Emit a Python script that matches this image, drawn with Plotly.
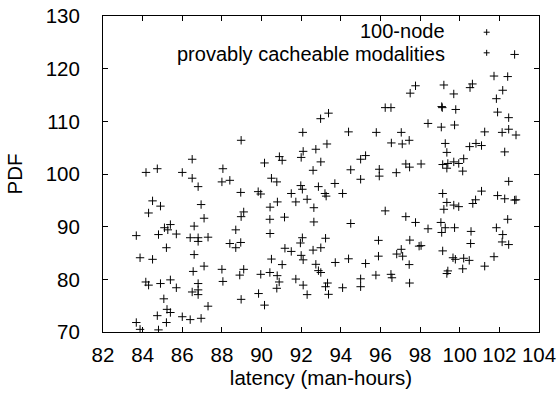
import plotly.graph_objects as go

# Series "100-node"
latency_100node = [86.8, 86.8, 87.3, 88.7, 88.4, 88.7, 88.95, 85.2, 83.87, 84.5, 86.6, 86.55, 87.1, 88.0, 89.1, 88.9,
                   84.16, 84.3, 84.9, 85.4, 85.7, 86.8, 86.8, 86.5, 86.8, 88.05, 85.07, 88.97, 87.3, 85.23, 85.4,
                   84.74, 86.0, 86.4, 86.95, 85.2, 83.68, 83.87, 84.8,
                   92.64, 94.5, 96.24, 97.28, 97.77, 90.43, 92.06, 91.96, 93.23, 91.18, 91.5, 92.6, 92.99, 95.9,
                   97.48, 97.05, 96.82, 97.12, 95.9, 97.95, 90.5, 92.0, 92.1, 94.39, 91.04, 92.74, 93.72, 95.25,
                   97.45, 89.96, 90.42, 90.79, 90.89, 90.77, 91.73, 92.87, 92.99, 93.33, 93.23, 92.1, 92.3, 93.38,
                   94.09, 95.0, 95.0, 95.77, 96.53, 96.58, 97.47, 89.85, 90.15,
                   102.47, 99.14, 99.35, 99.2, 99.7, 99.95, 101.1, 100.66, 100.8, 101.91, 102.27, 102.77, 102.84,
                   102.42, 98.4, 99.05, 99.09, 99.27, 99.74, 100.57, 101.85, 102.17, 102.14, 102.47, 100.55, 98.05,
                   99.14, 99.66, 99.78, 100.2, 100.48, 101.73, 101.26, 100.15, 99.4, 99.35]
pdf_100node = [87.9, 87.2, 88.0, 89.4, 86.8, 86.0, 87.0, 86.0, 84.1, 83.8, 84.7, 81.5, 82.5, 81.9, 81.9, 80.8,
               79.5, 78.9, 79.2, 79.9, 78.4, 79.2, 78.0, 77.6, 77.1, 79.6, 76.3, 76.2, 74.9, 74.3, 73.7,
               73.1, 72.9, 72.35, 72.6, 71.8, 71.8, 70.5, 70.4,
               90.9, 90.6, 93.0, 91.9, 90.8, 88.7, 87.9, 86.9, 87.8, 85.9, 85.3, 85.55, 86.0, 87.4,
               87.45, 85.7, 84.8, 84.4, 84.4, 86.3, 83.85, 84.55, 83.7, 83.9, 82.8, 82.85, 83.2, 83.0,
               82.8, 80.95, 81.3, 80.7, 79.5, 78.3, 80.05, 81.65, 81.3, 79.3, 78.6, 78.9, 77.1, 77.15,
               78.4, 80.1, 78.6, 80.8, 80.95, 80.3, 79.3, 77.3, 75.1,
               98.6, 96.3, 94.6, 93.3, 94.1, 93.8, 96.75, 94.4, 95.1, 95.9, 95.3, 95.05, 95.1,
               91.4, 89.6, 90.8, 88.9, 89.8, 89.8, 89.1, 89.8, 88.5, 87.1, 86.6, 86.8, 86.4,
               85.4, 84.1, 83.8, 84.0, 83.6, 84.3, 82.5, 82.0, 81.6, 81.1]

# Series "provably cacheable modalities"
latency_cacheable = [84.17, 84.74, 86.0, 86.5, 86.5, 88.05, 88.97, 86.8, 88.0, 88.4, 88.95, 84.5, 84.9, 84.3, 86.95,
                     87.1, 88.97, 89.1, 83.68, 84.8, 85.1, 85.27, 85.4, 85.7, 86.6, 86.4,
                     97.77, 97.5, 96.24, 96.53, 93.38, 92.98, 92.08, 94.39, 95.79, 97.05, 96.55, 97.1, 97.45, 93.3,
                     92.74, 92.1, 92.0, 90.9, 91.04, 90.15, 92.99, 92.6, 94.5, 95.0, 95.25, 95.94, 95.94, 96.8,
                     97.28, 97.47, 90.5, 95.0, 90.77, 91.98, 92.06, 92.87, 93.7, 93.2, 93.26, 94.09, 89.83, 89.96,
                     91.5, 91.73, 92.3, 92.64, 90.8, 90.43, 90.42, 91.16,
                     102.77, 101.73, 102.42, 100.64, 100.52, 99.2, 99.7, 102.17, 101.85, 99.09, 99.12, 99.8, 101.91,
                     102.47, 98.4, 99.07, 99.74, 101.26, 102.14, 102.47, 102.84, 99.27, 99.35, 100.5, 100.82, 101.1,
                     102.27, 98.05, 99.14, 99.35, 99.4, 99.7, 99.95, 100.2, 100.15]
pdf_cacheable = [100.3, 101.0, 100.3, 102.8, 99.2, 101.0, 106.4, 97.6, 98.5, 98.8, 96.5, 94.9, 93.9, 92.6, 94.2,
                 91.6, 91.9, 92.8, 88.3, 88.5, 89.8, 89.4, 90.4, 88.6, 90.1, 87.9,
                 116.75, 115.35, 112.6, 112.6, 111.55, 110.5, 107.9, 108.0, 107.9, 107.9, 105.9, 105.7, 106.4, 105.7,
                 104.7, 104.3, 103.15, 103.3, 102.6, 102.1, 102.3, 100.7, 100.8, 102.8, 103.5, 100.9, 99.6, 100.25,
                 101.9, 101.3, 99.2, 99.0, 98.5, 97.8, 97.1, 97.6, 98.2, 96.3, 95.8, 96.3, 96.65, 96.2,
                 96.3, 94.7, 95.2, 93.6, 94.7, 93.7, 91.4, 91.8,
                 122.7, 118.6, 118.5, 117.1, 116.4, 116.9, 115.2, 115.9, 114.3, 112.8, 112.6, 112.25, 111.75,
                 110.7, 109.6, 108.9, 109.3, 108.0, 107.9, 108.5, 107.4, 105.8, 104.1, 105.2, 105.8, 105.4,
                 104.2, 101.9, 101.8, 101.1, 102.0, 102.3, 102.0, 102.9, 100.55]

series_names = ["100-node", "provably cacheable modalities"]
x_ticks = [82, 84, 86, 88, 90, 92, 94, 96, 98, 100, 102, 104]
y_ticks = [70, 80, 90, 100, 110, 120, 130]

FONT = "Liberation Sans, Arial, Helvetica, sans-serif"
FS = 20.5
KEY_FS = 20

marker = dict(symbol="cross-thin", size=6, color="black", line=dict(color="black", width=1))

fig = go.Figure()
fig.add_trace(go.Scatter(x=latency_100node, y=pdf_100node, mode="markers", name=series_names[0],
                         marker=marker, showlegend=False))
fig.add_trace(go.Scatter(x=latency_cacheable, y=pdf_cacheable, mode="markers", name=series_names[1],
                         marker=marker, showlegend=False))

# gnuplot-style key: text right-aligned, sample marker to the right
key_text_y = [0.9519, 0.8804]
key_mark_y = [0.9487, 0.8835]
for name, ty, my in zip(series_names, key_text_y, key_mark_y):
    fig.add_annotation(xref="paper", yref="paper", x=0.786, y=ty, text=name, showarrow=False,
                       xanchor="right", yanchor="middle", borderpad=0,
                       font=dict(family=FONT, size=KEY_FS, color="black"))
    for (dx0, dy0, dx1, dy1) in [(-3, 0, 3, 0), (0, -3, 0, 3)]:
        fig.add_shape(type="line", xref="paper", yref="paper", xsizemode="pixel", ysizemode="pixel",
                      xanchor=0.880, yanchor=my, x0=dx0, x1=dx1, y0=dy0, y1=dy1,
                      line=dict(color="black", width=1))

axis_common = dict(showline=True, linecolor="black", linewidth=1, mirror="allticks", ticks="inside",
                   ticklen=5, tickcolor="black", tickwidth=1, showgrid=False, zeroline=False,
                   automargin=False, tickfont=dict(family=FONT, size=FS, color="black"))

fig.update_xaxes(range=[82, 104], tickvals=x_ticks, ticktext=[str(v) for v in x_ticks],
                 title=dict(text="latency (man-hours)", font=dict(family=FONT, size=FS, color="black"), standoff=5),
                 ticklabelstandoff=4, **axis_common)
fig.update_yaxes(range=[70, 130], tickvals=y_ticks, ticktext=[str(v) for v in y_ticks],
                 title=dict(text="PDF", font=dict(family=FONT, size=FS, color="black"), standoff=17),
                 ticklabelstandoff=18, **axis_common)

fig.update_layout(width=560, height=394, margin=dict(l=103, r=21, t=16, b=62),
                  paper_bgcolor="white", plot_bgcolor="white",
                  font=dict(family=FONT, size=FS, color="black"))

fig.write_html("out.html")
